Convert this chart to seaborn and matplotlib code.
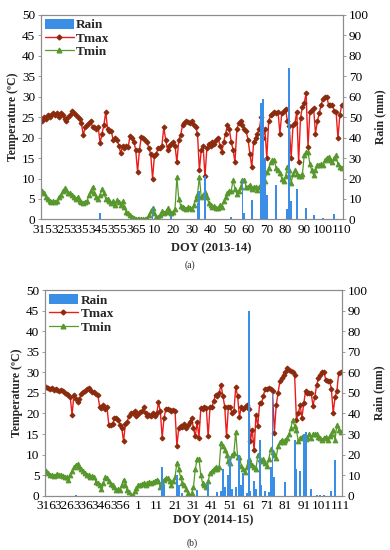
import numpy as np
import pandas as pd
import seaborn as sns
import matplotlib.pyplot as plt
from matplotlib.patches import Patch
from matplotlib.lines import Line2D
from matplotlib.ticker import MultipleLocator

sns.set_style("white")
plt.rcParams['font.family'] = ['Liberation Serif', 'DejaVu Serif']

# x tick labels (every 10 days)
doy_a = [315, 325, 335, 345, 355, 365, 10, 20, 30, 40, 50, 60, 70, 80, 90, 100, 110]
doy_b = [316, 326, 336, 346, 356, 1, 11, 21, 31, 41, 51, 61, 71, 81, 91, 101, 111]

# (a) 2013-14, one value per day
tmax_a = [24, 25, 24.5, 25.5, 25, 25.5, 26, 25.5, 26, 25,
          26, 25.5, 24.5, 24, 25, 25.5, 26.5, 26, 25.5, 25,
          24.5, 23.5, 20.6, 22.5, 23, 23.5, 24, 22.5, 22.5, 22,
          22.5, 18.6, 21, 23, 26.3, 22, 21.5, 21.5, 19.4, 20,
          19.5, 18, 16.2, 18, 17.5, 18, 17.7, 20.5, 20, 19,
          17, 11.6, 17, 20.2, 20, 19.5, 19, 17.5, 16, 10,
          15.5, 16, 17.5, 17.5, 18, 22.5, 19.5, 17, 18, 18.5,
          19, 18, 14, 19.5, 20.6, 23, 23.5, 24, 23.8, 23.5,
          24, 23, 22.6, 21, 12, 17, 18, 10.5, 17.5, 18.5,
          18, 19, 18.5, 19.5, 20, 18, 16.5, 19, 21, 23,
          22, 19, 17, 14, 22, 23.5, 24, 23, 22, 21.5,
          19.5, 16, 12.8, 19, 20, 21, 22, 25, 20, 22,
          15, 24, 25.5, 25.8, 26.3, 26, 26.3, 21, 26, 26.5,
          27, 24, 22.9, 15, 23, 23.5, 26.3, 14, 24.8, 27.5,
          28.5, 30.8, 17.7, 26.3, 26.8, 27.2, 21, 24, 25.9, 28,
          29.5, 30, 30, 28, 28, 28, 26.5, 26.3, 19.8, 25.5,
          28]
tmin_a = [7, 6.5, 5.5, 5, 4.5, 4.2, 4.5, 4.2, 4.5, 5.5,
          6, 7, 7.6, 7.2, 6.5, 6.5, 6, 5.5, 5, 5.5,
          4.5, 4.2, 3.9, 4.2, 4.4, 6, 7, 8, 6.5, 5.5,
          5, 6, 7.5, 6.5, 5, 5, 4.5, 4, 4.5, 3.5,
          4.7, 4.2, 3.5, 4.5, 3, 1.9, 1.5, 1, 0.7, 0.3,
          0.2, 0, 0, 0, 0.1, 0, 0.3, 1, 2, 2.8,
          1.5, 0.7, 0.5, 1, 2, 1.5, 1.8, 2.7, 2, 1.5,
          1.8, 2.5, 10.4, 5, 3.4, 3, 2.8, 2.6, 3, 2.9,
          2.6, 3.5, 5, 6, 10.4, 5.5, 6, 6.7, 5.5, 4,
          3.5, 3, 3.2, 2.7, 2.7, 3.5, 3, 4.5, 5.5, 6.5,
          7, 7, 9.6, 7.5, 6.3, 7, 8, 9.6, 9.6, 8,
          8, 8.5, 7.5, 8, 8, 7.3, 8, 8.6, 9, 9.5,
          11.6, 12.5, 14, 14.5, 14.5, 12.5, 12, 11.3, 10, 9.5,
          10.5, 12.9, 12, 9, 11, 12, 11, 10.7, 10.7, 11,
          15.7, 16.5, 16.5, 13.6, 12, 10.8, 12, 13.2, 13.2, 13.5,
          13.2, 14.5, 15, 15.3, 14.5, 14, 15, 15.7, 13.5, 12.9,
          12.5]
rain_day_a = [31, 59, 69, 83, 84, 87, 101, 107, 108, 112, 117, 118, 119, 120,
              125, 131, 132, 133, 136, 141, 145, 150, 156]
rain_mm_a = [3, 6, 1.5, 8, 14, 21, 1, 20, 3, 9.5, 57, 59, 30, 12,
             17, 5, 74, 9, 15, 5.5, 2, 0.5, 2.5]

# (b) 2014-15
tmax_b = [26.5, 26.2, 26, 26.3, 25.8, 26, 25.8, 25.5, 25.8, 25.5,
          25, 24.8, 24.5, 24, 19.7, 24.5, 23.6, 22.9, 23.5, 24.8,
          25.3, 25.6, 26, 26.2, 25.8, 25.2, 25.3, 24.8, 24.5, 21.7,
          21.3, 22, 21, 21.5, 17.2, 17.2, 17.5, 18.8, 19, 18.5,
          17.2, 16.5, 13.2, 17.5, 18, 19.5, 20, 20.1, 20.5, 19.5,
          19.8, 20.3, 20.5, 21.7, 20, 19.5, 19.7, 19.5, 20.2, 19.5,
          20, 22.7, 20.5, 14, 19, 21, 21.2, 20.8, 20.5, 20.8,
          20.5, 12, 16.5, 17, 16.8, 17.4, 16.5, 17.2, 18, 18.8,
          16.5, 14.4, 18, 14, 21.3, 21, 21.5, 21.3, 14.4, 21.5,
          21.5, 23, 24.6, 24.3, 25, 27, 24.3, 21.7, 14.4, 21.6,
          21.6, 20, 20.5, 26.4, 24.3, 19.2, 21.5, 21, 21.5, 22,
          21, 13.3, 16, 11, 19.7, 17, 22.5, 22.5, 24.3, 26,
          26, 26.2, 26, 25.5, 15.3, 22, 25, 27.8, 28.6, 29.5,
          30, 31, 30.5, 30.3, 30, 29.5, 18.5, 20, 22, 19,
          22.5, 25.5, 25, 25, 25, 21.9, 24, 27, 28.6, 29.5,
          30.2, 30, 28.2, 28, 28, 26, 20.1, 24, 25.5, 29.9,
          30]
tmin_b = [5.9, 5.5, 5, 5, 4.8, 5, 5.2, 5, 5, 4.8,
          4.6, 4.5, 3.9, 5, 6, 7, 7.5, 7.7, 7, 6.5,
          6, 5.5, 5, 5, 4.6, 4.8, 4.5, 3.3, 3, 2.5,
          1.5, 3, 4.6, 4.2, 3.5, 2.9, 2.5, 2, 1.4, 1.5,
          1.4, 2.5, 3.9, 2.5, 1.4, 0.8, 0.2, 0.2, 1, 1.8,
          2.6, 2.6, 2.8, 3, 2.6, 3, 3.3, 3, 3.3, 3.5,
          3.9, 3.5, 2.1, 3, 3.9, 4.2, 4.3, 3.5, 2.6, 3.5,
          4.6, 8, 6.5, 4.5, 3, 2.5, 1.5, 0.5, 0, 0.5,
          2, 6.5, 8.8, 9, 5, 3, 2.5, 2.2, 3.5, 5.5,
          6, 6.5, 7, 6.5, 7, 12.8, 12, 11.1, 10, 8.5,
          8, 10, 10.4, 15.6, 9.5, 9.5, 7.3, 6.5, 5.7, 7,
          9, 8, 7.5, 7, 6.5, 9.8, 9, 8.5, 8.8, 8,
          7.2, 9, 11.3, 10.5, 9.9, 9.2, 12, 13, 13.6, 13,
          13.5, 14, 15, 16.5, 18.5, 17, 15.9, 13.3, 14, 14.3,
          14.5, 13.8, 14.3, 15, 14, 15, 15, 15, 14.3, 14,
          13.6, 14, 14.3, 13.6, 14.5, 15, 16, 13.6, 17.2, 15.9,
          15.5]
rain_day_b = [16, 63, 64, 71, 72, 74, 82, 88, 93, 95, 96, 97, 99, 100, 101,
              103, 105, 106, 107, 109, 110, 111, 113, 114, 116, 117, 119, 121,
              122, 123, 124, 130, 135, 136, 138, 140, 141, 144, 147, 149, 151,
              155, 157]
rain_mm_b = [0.5, 14, 5, 10, 5, 1, 2.5, 6, 1.5, 2, 13, 4, 10, 19, 3,
             4, 20, 5, 11, 1, 90, 2, 7, 3, 27, 5, 2, 1.5,
             14, 50, 9, 6.5, 27, 13, 12, 30, 31, 3, 0.5, 0.5, 0.5,
             2, 17.5]

BLUE = '#3a8ee6'
RED = '#ec1c1c'
DARK = '#8b2a0c'
GREEN = '#56982c'
GREY = '#8c8c8c'


def make_df(tmax, tmin, rain_day, rain_mm):
    df = pd.DataFrame({'day': np.arange(len(tmax)), 'tmax': tmax, 'tmin': tmin})
    df['rain'] = 0.0
    df.loc[rain_day, 'rain'] = rain_mm
    return df


def draw_panel(ax, df, ticklabels, xlabel, label_y):
    sns.lineplot(data=df, x='day', y='tmax', ax=ax, color=RED, lw=1.0,
                 marker='D', ms=2.5, mfc=DARK, mec=DARK, legend=False)
    sns.lineplot(data=df, x='day', y='tmin', ax=ax, color=GREEN, lw=0.9,
                 marker='^', ms=3.4, mfc=GREEN, mec=GREEN, legend=False)
    ax2 = ax.twinx()
    sns.barplot(data=df, x='day', y='rain', ax=ax2, native_scale=True,
                color=BLUE, saturation=1, width=1.0, linewidth=0, errorbar=None)

    ax.set_xlim(-0.8, 160.8)
    ax.set_ylim(0, 50)
    ax2.set_ylim(0, 100)
    ax.set_yticks(np.arange(0, 51, 5))
    ax2.set_yticks(np.arange(0, 101, 10))
    ax.set_xticks(np.arange(0, 161, 10))
    ax.set_xticklabels(ticklabels)
    ax.xaxis.set_minor_locator(MultipleLocator(1))

    ax.set_xlabel(xlabel, fontsize=9, fontweight='bold')
    ax.xaxis.set_label_coords(0.565, label_y)
    ax.set_ylabel('Temperature (ºC)', fontsize=8.5, fontweight='bold', labelpad=2)
    ax2.set_ylabel('Rain (mm)', fontsize=8.5, fontweight='bold', labelpad=4)

    for a in (ax, ax2):
        for s in a.spines.values():
            s.set_color(GREY)
            s.set_linewidth(0.8)
        a.tick_params(axis='both', which='major', labelsize=9.5, colors=GREY,
                      labelcolor='black', length=2.5, width=0.6, pad=1.5, direction='out')
    ax.tick_params(axis='x', which='major', pad=1)
    ax.tick_params(axis='x', which='minor', length=2, width=0.4, colors=GREY, direction='out')

    handles = [Patch(facecolor=BLUE, edgecolor='none'),
               Line2D([], [], color=RED, lw=1.0, marker='D', ms=2.5, mfc=DARK, mec=DARK),
               Line2D([], [], color=GREEN, lw=0.9, marker='^', ms=3.4, mfc=GREEN, mec=GREEN)]
    ax2.legend(handles, ['Rain', 'Tmax', 'Tmin'], loc='upper left', frameon=False,
               prop={'weight': 'bold', 'size': 9.5}, handlelength=2.2, handleheight=0.8,
               labelspacing=0.05, borderaxespad=0.2, handletextpad=0.2,
               borderpad=0.1)


df_a = make_df(tmax_a, tmin_a, rain_day_a, rain_mm_a)
df_b = make_df(tmax_b, tmin_b, rain_day_b, rain_mm_b)

fig = plt.figure(figsize=(3.9, 5.5), dpi=100)
ax_a = fig.add_axes([0.104, 0.601, 0.776, 0.372])
ax_b = fig.add_axes([0.115, 0.099, 0.762, 0.373])

draw_panel(ax_a, df_a, doy_a, 'DOY (2013-14)', -0.11)
draw_panel(ax_b, df_b, doy_b, 'DOY (2014-15)', -0.092)

fig.text(0.487, 1 - 265 / 550, '(a)', fontsize=7, ha='center', va='center')
fig.text(0.493, 1 - 543 / 550, '(b)', fontsize=7, ha='center', va='center')

fig.savefig('out.png', dpi=100)
